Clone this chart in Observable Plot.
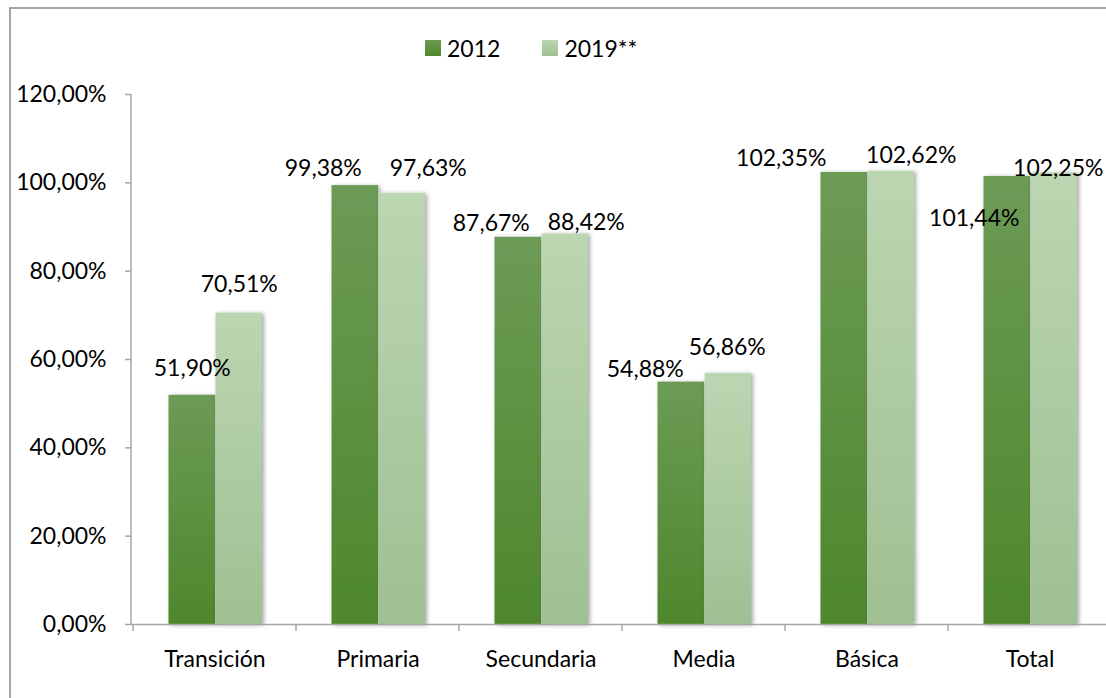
<!DOCTYPE html>
<html><head><meta charset="utf-8">
<script src="https://cdn.jsdelivr.net/npm/d3@7"></script>
<script src="https://cdn.jsdelivr.net/npm/@observablehq/plot@0.6"></script>
<style>
html,body{margin:0;padding:0;background:#fff;}
#wrap{position:relative;width:1106px;height:698px;overflow:hidden;font-family:Lato,sans-serif;color:#000;}
#frame{position:absolute;left:9px;top:7px;width:1300px;height:900px;border:2px solid #a6a6a6;box-sizing:border-box;}
#legend{position:absolute;top:37px;left:425px;height:22px;display:flex;align-items:center;font-size:23px;line-height:22px;}
#legend .sw{width:16px;height:16px;margin-right:6px;}
#chart{position:absolute;left:0;top:0;}
</style></head><body>
<div id="wrap"><div id="frame"></div><div id="legend"></div><div id="chart"></div></div>
<script>
// ---- data ----
const categories = ["Transición", "Primaria", "Secundaria", "Media", "Básica", "Total"];
const series = ["2012", "2019**"];
const values2012 = [51.90, 99.38, 87.67, 54.88, 102.35, 101.44];
const values2019 = [70.51, 97.63, 88.42, 56.86, 102.62, 102.25];
const yTicks = [0, 20, 40, 60, 80, 100, 120];

// ---- layout (label nudges, px, relative to bar centre / bar top) ----
const nudge2012 = [[0,-27],[-32,-17],[-27,-14],[-36,-12],[-63,-14],[-33,42]];
const nudge2019 = [[0,-28],[26,-25],[21,-11.5],[-1,-26],[20,-16],[4,-4]];

const W = 1120, H = 698, mL = 131, mR = 8, mT = 94, mB = 74;
const step = (W - mL - mR) / categories.length;
const barW = 47, lead = 35.5;
const fmt = v => v.toFixed(2).replace(".", ",") + "%";

const rows2012 = categories.map((c, i) => ({category: c, value: values2012[i], series: series[0], n: nudge2012[i]}));
const rows2019 = categories.map((c, i) => ({category: c, value: values2019[i], series: series[1], n: nudge2019[i]}));

const c2012 = -step/2 + lead + barW/2;       // bar centre offset from band centre
const c2019 = -step/2 + lead + barW*1.5;

const labelMarks = [
  ...rows2012.map(d => Plot.text([d], {x: "category", y: "value", text: d => fmt(d.value), dx: c2012 + d.n[0], dy: d.n[1], fontSize: 23, fill: "#000"})),
  ...rows2019.map(d => Plot.text([d], {x: "category", y: "value", text: d => fmt(d.value), dx: c2019 + d.n[0], dy: d.n[1], fontSize: 23, fill: "#000"}))
];

const axisLines = (index, scales, values, dimensions) => {
  const g = d3.create("svg:g").attr("stroke", "#a6a6a6").attr("stroke-width", 1.5).attr("fill", "none");
  const y0 = scales.y(0), y1 = scales.y(120);
  g.append("line").attr("x1", mL).attr("x2", mL).attr("y1", y0).attr("y2", y1);
  const bounds = categories.map(c => scales.x(c)).concat([scales.x(categories[categories.length-1]) + step]);
  bounds.forEach(b => g.append("line").attr("x1", b).attr("x2", b).attr("y1", y0).attr("y2", y0 + 7));
  return g.node();
};

const chart = Plot.plot({
  width: W, height: H,
  marginLeft: mL, marginRight: mR, marginTop: mT, marginBottom: mB,
  style: {background: "transparent", maxWidth: "none", fontFamily: "Lato, sans-serif", fontSize: "23px", color: "#000", overflow: "visible"},
  x: {domain: categories, padding: 0, label: null},
  y: {domain: [0, 120], label: null},
  marks: [
    Plot.barY(rows2012, {x: "category", y: "value", fill: "url(#g2012)", insetLeft: lead, insetRight: step - lead - barW}),
    Plot.barY(rows2019, {x: "category", y: "value", fill: "url(#g2019)", insetLeft: lead + barW, insetRight: step - lead - 2*barW}),
    Plot.ruleY([0], {stroke: "#a6a6a6", strokeWidth: 1.5}),
    Plot.axisY({ticks: yTicks, tickFormat: fmt, tickSize: 6, tickPadding: 19, stroke: "#a6a6a6", strokeWidth: 1.5, fontSize: 23, label: null}),
    Plot.axisX({tickSize: 0, tickPadding: 26, fontSize: 23, label: null}),
    axisLines,
    ...labelMarks
  ]
});

const defs = d3.select(chart).insert("defs", ":first-child");
function grad(id, top, bot) {
  const g = defs.append("linearGradient").attr("id", id).attr("x1", 0).attr("y1", 0).attr("x2", 0).attr("y2", 1);
  g.append("stop").attr("offset", "0%").attr("stop-color", top);
  g.append("stop").attr("offset", "100%").attr("stop-color", bot);
}
grad("g2012", "#6c9b56", "#4e872c");
grad("g2019", "#bbd6b1", "#9fc093");
defs.append("filter").attr("id", "sh").attr("x", "-20%").attr("y", "-5%").attr("width", "150%").attr("height", "110%")
  .append("feDropShadow").attr("dx", 2).attr("dy", 1).attr("stdDeviation", 2).attr("flood-color", "#000").attr("flood-opacity", 0.35);
d3.select(chart).selectAll('g[aria-label="bar"]').attr("filter", "url(#sh)");

document.getElementById("chart").appendChild(chart);

// legend
const leg = document.getElementById("legend");
const legGrads = [["#6c9b56", "#4e872c"], ["#bbd6b1", "#9fc093"]];
series.forEach((s, i) => {
  const sw = document.createElement("div");
  sw.className = "sw";
  sw.style.background = `linear-gradient(${legGrads[i][0]}, ${legGrads[i][1]})`;
  const t = document.createElement("span");
  t.textContent = s;
  if (i === 0) t.style.marginRight = "42px";
  leg.appendChild(sw); leg.appendChild(t);
});
</script>
</body></html>
